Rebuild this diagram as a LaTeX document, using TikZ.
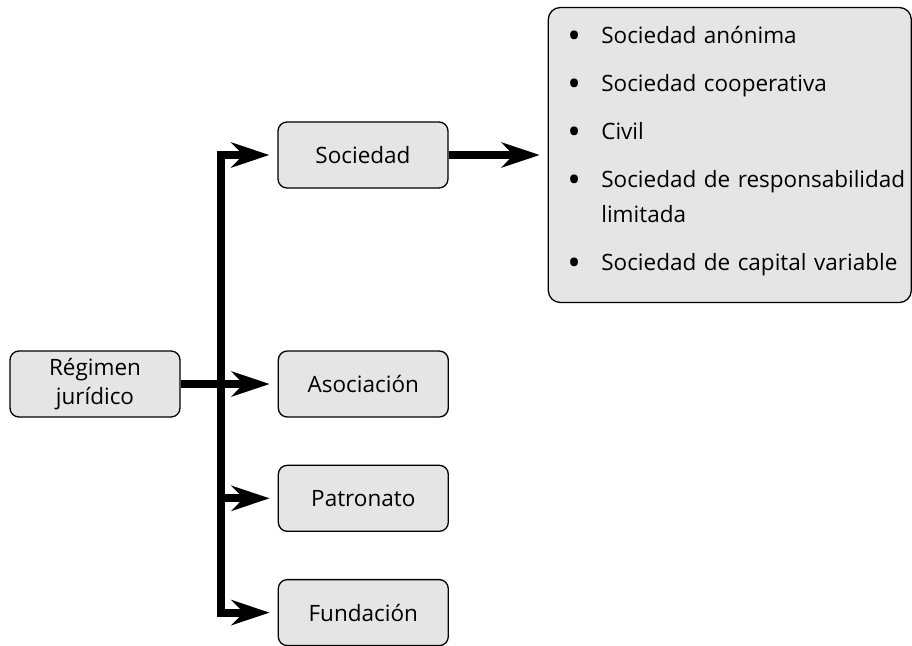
\documentclass[tikz,border=0pt]{standalone}
\usepackage{fontspec}
\setmainfont{Open Sans}
\usetikzlibrary{arrows.meta,positioning}
\definecolor{boxgray}{gray}{0.9}
\newcommand{\punto}{\raisebox{-5pt}{\scalebox{1.6}{\textbullet}}}

\begin{document}
\begin{tikzpicture}[x=1pt,y=-1pt,
   >={Stealth[length=38pt,width=25pt,inset=12pt]},
   box/.style={draw,line width=1.3pt,rounded corners=9pt,fill=boxgray,
               minimum width=170pt,minimum height=66pt,align=center,
               font=\fontsize{22.5}{29}\selectfont},
   listbox/.style={draw,line width=1.3pt,rounded corners=12pt,fill=boxgray,
               minimum width=363pt,minimum height=295pt,text width=325pt,
               inner xsep=19pt,align=left,font=\fontsize{22.5}{26}\selectfont},
   flow/.style={line width=8pt,line join=miter,shorten >=8pt}]
  \useasboundingbox (0,0) rectangle (912,645);
  \node[box] (reg) at (95,384) {Régimen\\jurídico};
  \node[box] (soc) at (363,155) {Sociedad};
  \node[box,right=97pt of reg] (asoc) {Asociación};
  \node[box,below=47pt of asoc] (pat) {Patronato};
  \node[box,below=47pt of pat] (fun) {Fundación};
  \node[listbox,right=99pt of soc] (tipos) {%
    \begin{tabular}{@{}p{34pt}@{}l@{}}
      \punto & Sociedad anónima\\[22pt]
      \punto & Sociedad cooperativa\\[22pt]
      \punto & Civil\\[22pt]
      \punto & Sociedad de responsabilidad\\[9pt]
             & limitada\\[22pt]
      \punto & Sociedad de capital variable\\[6pt]
    \end{tabular}};
  \coordinate (spine) at (221,0);
  % ramas
  \draw[flow,<->,shorten <=8pt] (soc.west) -- (spine |- soc.west)
       -- (spine |- fun.west) -- (fun.west);
  \draw[flow,->] (reg.east) -- (asoc.west);
  \draw[flow,->] (spine |- pat.west) -- (pat.west);
  \draw[flow,->] (soc.east) -- (tipos.west);
\end{tikzpicture}
\end{document}
